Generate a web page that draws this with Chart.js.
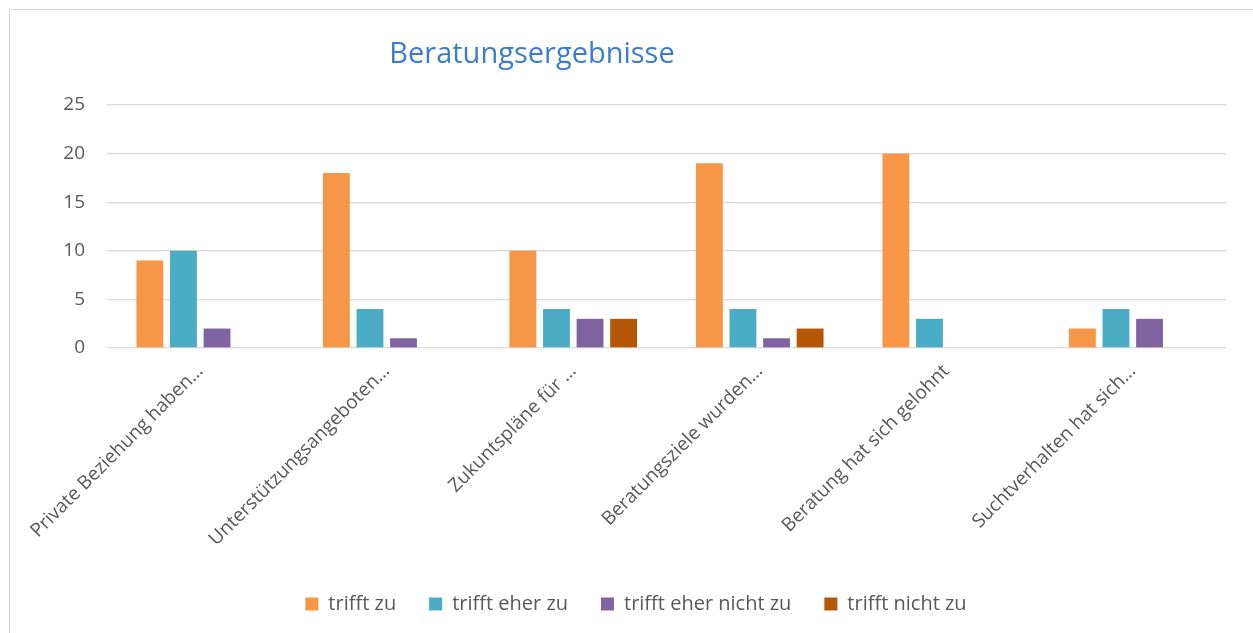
<!DOCTYPE html>
<html>
<head>
<meta charset="utf-8">
<script src="https://cdn.jsdelivr.net/npm/chart.js@4.4.1/dist/chart.umd.min.js"></script>
<style>
    body { margin: 0; background: #ffffff; overflow: hidden; }
    #frame {
        position: absolute; left: 9px; top: 9px;
        width: 1270px; height: 640px;
        border: 1px solid #d6d6d6;
    }
    #chart-title {
        position: absolute; left: 332px; top: 33px; width: 400px;
        text-align: center; font-family: 'Open Sans', sans-serif;
        font-size: 29px; line-height: 38px; color: #3b7dc8;
    }
    #chart-box { position: absolute; left: 10px; top: 10px; }
</style>
</head>
<body>
<div id="frame"></div>
<div id="chart-box"><canvas id="result-chart" width="1262" height="623"></canvas></div>
<div id="chart-title">Beratungsergebnisse</div>

<script>
// Kategorien und Werte
const categories = [
    'Private Beziehung haben…',
    'Unterstützungsangeboten…',
    'Zukuntspläne für …',
    'Beratungsziele wurden…',
    'Beratung hat sich gelohnt',
    'Suchtverhalten hat sich…'
];
const seriesNames = ['trifft zu', 'trifft eher zu', 'trifft eher nicht zu', 'trifft nicht zu'];
const trifftZu = [9, 18, 10, 19, 20, 2];
const trifftEherZu = [10, 4, 4, 4, 3, 4];
const trifftEherNichtZu = [2, 1, 3, 1, 0, 3];
const trifftNichtZu = [0, 0, 3, 2, 0, 0];
const yTicks = [0, 5, 10, 15, 20, 25];

const seriesColors = ['#F79646', '#4BACC6', '#8064A2', '#B65708'];
const seriesValues = [trifftZu, trifftEherZu, trifftEherNichtZu, trifftNichtZu];

const tickFont = { family: 'Open Sans', size: 19 };

const datasets = seriesNames.map((name, i) => ({
    label: name,
    data: seriesValues[i],
    backgroundColor: seriesColors[i],
    borderWidth: 0,
    barPercentage: 0.8,
    categoryPercentage: 0.72
}));

new Chart(document.getElementById('result-chart'), {
    type: 'bar',
    data: { labels: categories, datasets: datasets },
    options: {
        responsive: false,
        animation: false,
        layout: {
            padding: { top: 95, left: 36, right: 46, bottom: 9 }
        },
        plugins: {
            title: { display: false },
            tooltip: { enabled: false },
            legend: {
                position: 'bottom',
                labels: {
                    boxWidth: 13,
                    boxHeight: 13,
                    padding: 33,
                    color: '#595959',
                    font: { family: 'Open Sans', size: 20 }
                }
            }
        },
        scales: {
            y: {
                min: 0,
                max: 25,
                afterFit: scale => { scale.width = 61; },
                afterBuildTicks: scale => { scale.ticks = yTicks.map(v => ({ value: v })); },
                grid: { color: '#d9d9d9', lineWidth: 1.3, drawTicks: false },
                border: { display: false },
                ticks: { color: '#595959', font: tickFont, padding: 22 }
            },
            x: {
                afterFit: scale => { scale.height = 213; },
                grid: { display: false },
                border: { display: false },
                ticks: {
                    color: '#595959',
                    font: tickFont,
                    autoSkip: false,
                    minRotation: 45,
                    maxRotation: 45,
                    padding: 4
                }
            }
        }
    }
});
</script>
</body>
</html>
